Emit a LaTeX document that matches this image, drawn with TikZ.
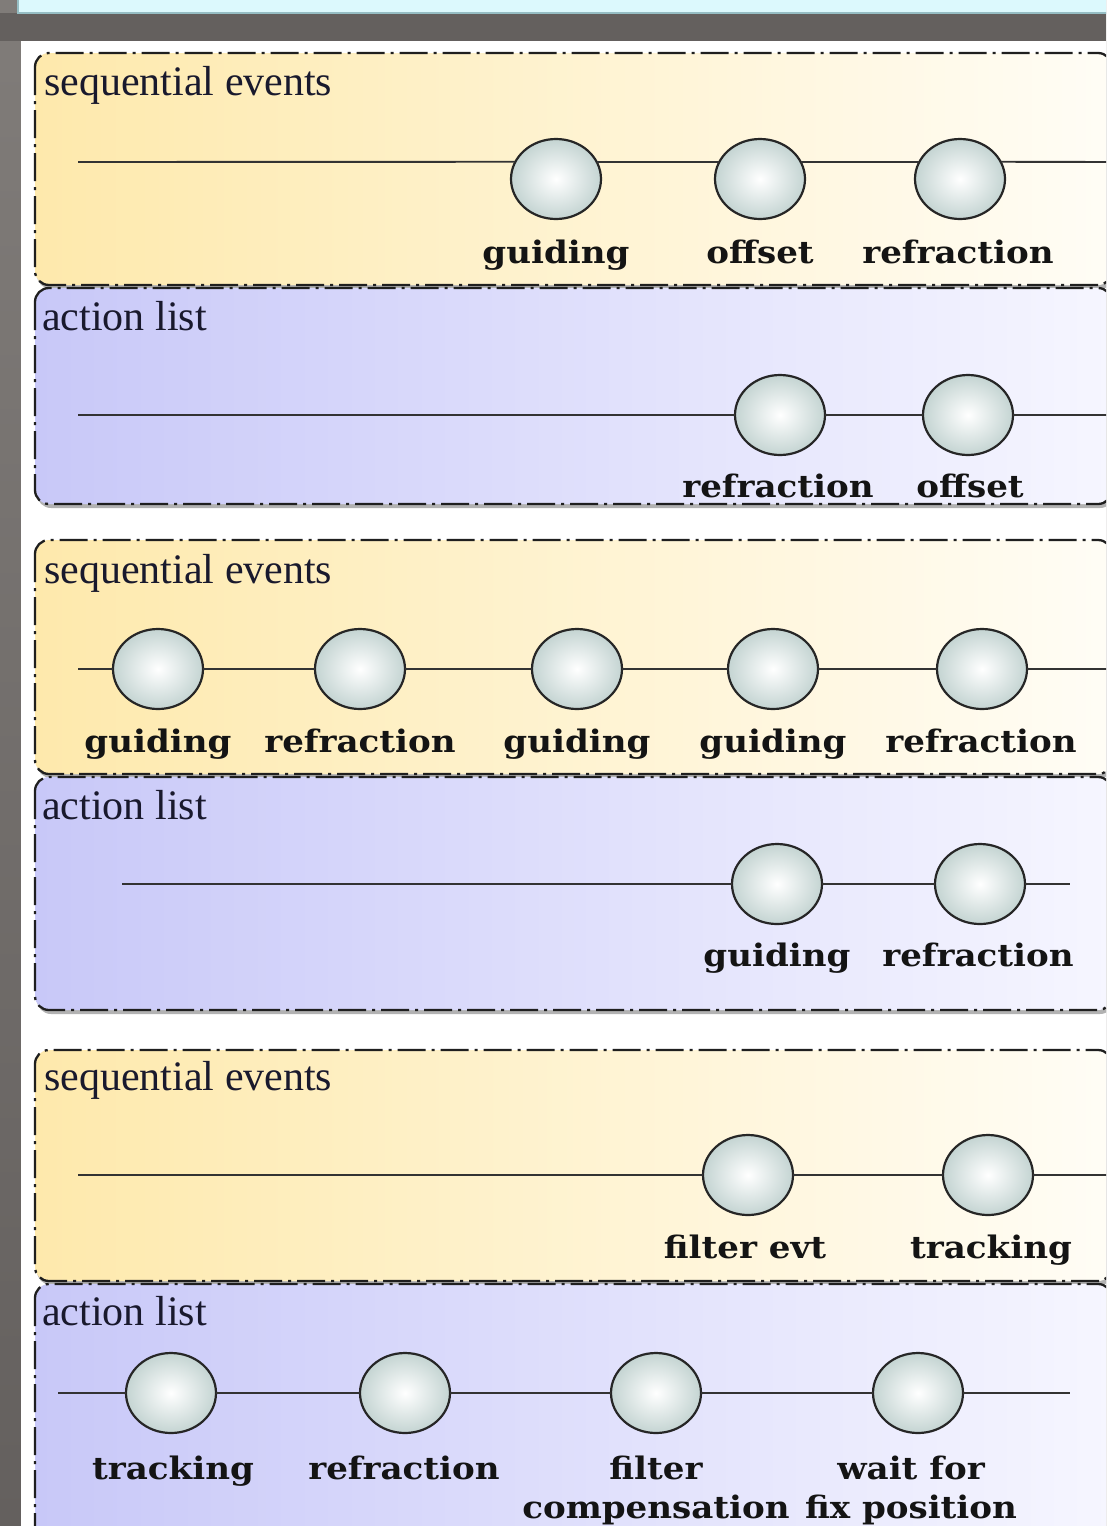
\documentclass[tikz,border=0pt]{standalone}
\usepackage{fontspec}
\setmainfont{Liberation Serif}
\newfontfamily\lblfont{DejaVu Serif}[FakeStretch=1.1]
\usetikzlibrary{shapes.geometric}
\definecolor{bgdark}{RGB}{100,96,94}
\definecolor{bglight}{RGB}{128,124,121}
\definecolor{cyanbar}{RGB}{220,249,253}
\definecolor{cyanedge}{RGB}{150,190,196}
\definecolor{ylwL}{RGB}{254,233,172}
\definecolor{ylwR}{RGB}{255,253,246}
\definecolor{bluL}{RGB}{200,200,248}
\definecolor{bluR}{RGB}{246,246,255}
\definecolor{evtout}{RGB}{196,212,210}
\definecolor{ttlcol}{RGB}{25,25,45}
\begin{document}
\begin{tikzpicture}[x=1pt,y=-1pt,
  evt/.style={ellipse, draw=black!85, line width=2.2pt, minimum width=90pt, minimum height=80pt, inner sep=0pt, outer sep=0pt, inner color=white, outer color=evtout},
  lbl/.style={font=\lblfont\bfseries\fontsize{31}{39}\selectfont, text=black!92, inner sep=0pt, anchor=base, align=center},
  ttl/.style={font=\fontsize{42}{46}\selectfont, text=ttlcol, inner sep=0pt, anchor=base west},
  conn/.style={draw=black!80, line width=1.9pt},
  frame/.style={draw=black!88, line width=2.3pt, dash pattern=on 28pt off 6pt on 3pt off 6pt, rounded corners=14pt},
  ylw/.style={left color=ylwL, right color=ylwR, rounded corners=14pt},
  blu/.style={left color=bluL, right color=bluR, rounded corners=14pt},
  shd/.style={fill=black, opacity=0.3, rounded corners=14pt}
]
\useasboundingbox (0,0) rectangle (1106,1526);
\clip (0,0) rectangle (1106,1526);
% background
\shade[top color=bglight, bottom color=bgdark] (0,0) rectangle (1106,1526);
\fill[bgdark] (0,13) rectangle (1106,41);
\fill[cyanbar] (18,-5) rectangle (1110,13);
\draw[cyanedge, line width=1.5pt] (18,-5) -- (18,13) -- (1110,13);
\fill[white] (21,41) rectangle (1106,1526);
% shadows
\fill[shd] (37,57) rectangle (1114,289);
\fill[shd] (37,292) rectangle (1114,508);
\fill[shd] (37,544) rectangle (1114,778);
\fill[shd] (37,781) rectangle (1114,1014);
\fill[shd] (37,1054) rectangle (1114,1285);
% panels
\shade[ylw] (35,53) rectangle (1112,285);
\draw[frame] (35,53) rectangle (1112,285);
\shade[blu] (35,288) rectangle (1112,504);
\draw[frame] (35,288) rectangle (1112,504);
\shade[ylw] (35,540) rectangle (1112,774);
\draw[frame] (35,540) rectangle (1112,774);
\shade[blu] (35,777) rectangle (1112,1010);
\draw[frame] (35,777) rectangle (1112,1010);
\shade[ylw] (35,1050) rectangle (1112,1281);
\draw[frame] (35,1050) rectangle (1112,1281);
\shade[blu] (35,1284) rectangle (1112,1580);
\draw[frame] (35,1284) rectangle (1112,1580);
% titles
\node[ttl] (t1) at (44,95) {sequential events};
\node[ttl] (t2) at (42,330) {action list};
\node[ttl] (t3) at (44,583) {sequential events};
\node[ttl] (t4) at (42,819) {action list};
\node[ttl] (t5) at (44,1090) {sequential events};
\node[ttl] (t6) at (42,1325) {action list};
% panel 1
\node[evt] (p1a) at (556,179) {};
\node[evt] (p1b) at (760,179) {};
\node[evt] (p1c) at (960,179) {};
\coordinate (p1s) at (78,162);
\coordinate (p1e) at (1110,162);
\draw[conn] (p1s) -- (p1a.157);
\draw[conn] (p1a.23) -- (p1b.157);
\draw[conn] (p1b.23) -- (p1c.157);
\draw[conn] (p1c.23) -- (p1e);
\node[lbl] (l1a) at (556,263) {guiding};
\node[lbl] (l1b) at (760,263) {offset};
\node[lbl] (l1c) at (958,263) {refraction};
% panel 2
\node[evt] (p2a) at (780,415) {};
\node[evt] (p2b) at (968,415) {};
\coordinate (p2s) at (78,415);
\coordinate (p2e) at (1110,415);
\draw[conn] (p2s) -- (p2a);
\draw[conn] (p2a) -- (p2b);
\draw[conn] (p2b) -- (p2e);
\node[lbl] (l2a) at (778,497) {refraction};
\node[lbl] (l2b) at (970,497) {offset};
% panel 3
\node[evt] (p3a) at (158,669) {};
\node[evt] (p3b) at (360,669) {};
\node[evt] (p3c) at (577,669) {};
\node[evt] (p3d) at (773,669) {};
\node[evt] (p3e) at (982,669) {};
\coordinate (p3s) at (78,669);
\coordinate (p3f) at (1110,669);
\draw[conn] (p3s) -- (p3a);
\draw[conn] (p3a) -- (p3b);
\draw[conn] (p3b) -- (p3c);
\draw[conn] (p3c) -- (p3d);
\draw[conn] (p3d) -- (p3e);
\draw[conn] (p3e) -- (p3f);
\node[lbl] (l3a) at (158,752) {guiding};
\node[lbl] (l3b) at (360,752) {refraction};
\node[lbl] (l3c) at (577,752) {guiding};
\node[lbl] (l3d) at (773,752) {guiding};
\node[lbl] (l3e) at (981,752) {refraction};
% panel 4
\node[evt] (p4a) at (777,884) {};
\node[evt] (p4b) at (980,884) {};
\coordinate (p4s) at (122,884);
\coordinate (p4e) at (1070,884);
\draw[conn] (p4s) -- (p4a);
\draw[conn] (p4a) -- (p4b);
\draw[conn] (p4b) -- (p4e);
\node[lbl] (l4a) at (777,966) {guiding};
\node[lbl] (l4b) at (978,966) {refraction};
% panel 5
\node[evt] (p5a) at (748,1175) {};
\node[evt] (p5b) at (988,1175) {};
\coordinate (p5s) at (78,1175);
\coordinate (p5e) at (1110,1175);
\draw[conn] (p5s) -- (p5a);
\draw[conn] (p5a) -- (p5b);
\draw[conn] (p5b) -- (p5e);
\node[lbl] (l5a) at (745,1258) {filter evt};
\node[lbl] (l5b) at (991,1258) {tracking};
% panel 6
\node[evt] (p6a) at (171,1393) {};
\node[evt] (p6b) at (405,1393) {};
\node[evt] (p6c) at (656,1393) {};
\node[evt] (p6d) at (918,1393) {};
\coordinate (p6s) at (58,1393);
\coordinate (p6e) at (1070,1393);
\draw[conn] (p6s) -- (p6a);
\draw[conn] (p6a) -- (p6b);
\draw[conn] (p6b) -- (p6c);
\draw[conn] (p6c) -- (p6d);
\draw[conn] (p6d) -- (p6e);
\node[lbl] (l6a) at (173,1479) {tracking};
\node[lbl] (l6b) at (404,1479) {refraction};
\node[lbl] (l6c) at (656,1518) {filter\\compensation};
\node[lbl] (l6d) at (911,1518) {wait for\\fix position};
\end{tikzpicture}
\end{document}
